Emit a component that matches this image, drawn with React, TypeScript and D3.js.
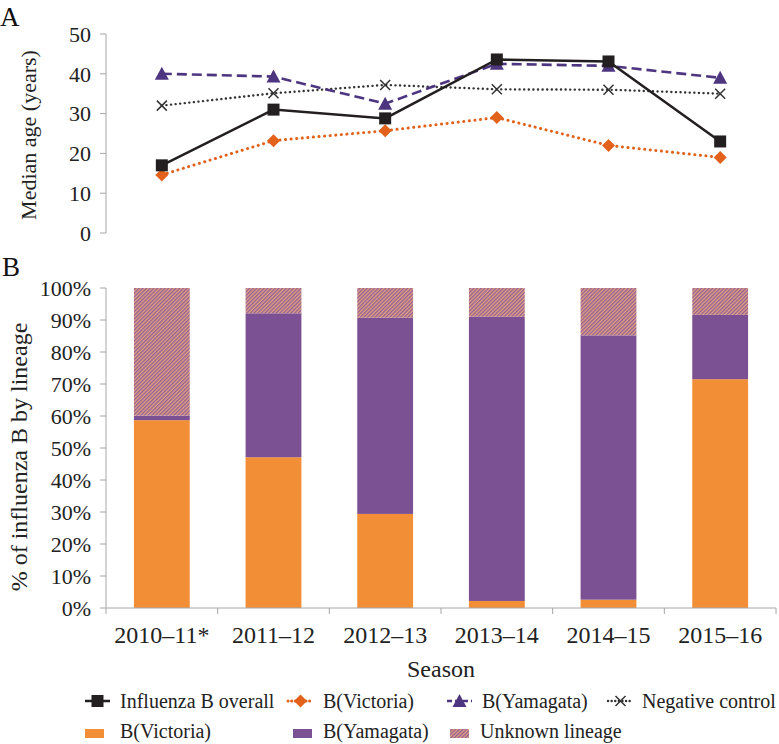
import React from "react";
import * as d3 from "d3";

const seasons = ["2010–11*", "2011–12", "2012–13", "2013–14", "2014–15", "2015–16"];
const overallAge = [17, 31, 28.8, 43.6, 43.1, 23];
const victoriaAge = [14.6, 23.2, 25.7, 29, 22, 19];
const yamagataAge = [40, 39.3, 32.5, 42.5, 42, 39];
const negativeAge = [32, 35.1, 37.2, 36.1, 36, 35];
const victoriaPct = [58.7, 47.1, 29.4, 2.2, 2.6, 71.5];
const yamagataPct = [1.4, 45, 61.3, 88.8, 82.6, 20.1];
const unknownPct = [39.9, 7.9, 9.3, 9.0, 14.8, 8.4];
const ageTicks = [0, 10, 20, 30, 40, 50];
const pctTicks = [0, 10, 20, 30, 40, 50, 60, 70, 80, 90, 100];

const FONT = "Liberation Serif, DejaVu Serif, Times New Roman, serif";
const AXIS = "#a6a6a6";
const ORANGE_BAR = "#F28E36";
const PURPLE_BAR = "#7C5193";
const ORANGE_LINE = "#E2621B";
const PURPLE_LINE = "#4E3580";
const BLACK = "#231F20";
const GREY = "#333333";

const x = d3.scaleBand<string>().domain(seasons).range([106, 776]).paddingInner(0.5).paddingOuter(0.25);
const yAge = d3.scaleLinear().domain([0, 50]).range([233, 34]);
const yPct = d3.scaleLinear().domain([0, 100]).range([608, 288]);
const cx = (s: string) => (x(s) as number) + x.bandwidth() / 2;

function Marker({ kind, px, py }: { kind: string; px: number; py: number }) {
  if (kind === "square") return <rect x={px - 6} y={py - 6} width={12} height={12} fill={BLACK} />;
  if (kind === "diamond") {
    return <path d={`M${px},${py - 6.5}L${px + 6.5},${py}L${px},${py + 6.5}L${px - 6.5},${py}Z`} fill={ORANGE_LINE} />;
  }
  if (kind === "triangle") {
    return <path d={`M${px},${py - 7}L${px + 7},${py + 6}L${px - 7},${py + 6}Z`} fill={PURPLE_LINE} />;
  }
  return (
    <path d={`M${px - 5},${py - 5}L${px + 5},${py + 5}M${px + 5},${py - 5}L${px - 5},${py + 5}`} stroke={GREY} strokeWidth={1.5} fill="none" />
  );
}

const lineSeries = [
  { name: "Influenza B overall", values: overallAge, color: BLACK, dash: "none", width: 2.5, marker: "square", cap: "butt" },
  { name: "B(Victoria)", values: victoriaAge, color: ORANGE_LINE, dash: "0.1,5.5", width: 3, marker: "diamond", cap: "round" },
  { name: "B(Yamagata)", values: yamagataAge, color: PURPLE_LINE, dash: "10,5", width: 2.6, marker: "triangle", cap: "butt" },
  { name: "Negative control", values: negativeAge, color: GREY, dash: "0.1,4.5", width: 2.4, marker: "x", cap: "round" },
];

export default function App() {
  const line = d3.line<number>().x((_, i) => cx(seasons[i])).y((d) => yAge(d));
  const stacks = seasons.map((s, i) => {
    const v = victoriaPct[i], y = yamagataPct[i], u = unknownPct[i];
    return [
      { y0: 0, y1: v, fill: ORANGE_BAR },
      { y0: v, y1: v + y, fill: PURPLE_BAR },
      { y0: v + y, y1: v + y + u, fill: "url(#hatch)" },
    ];
  });
  const legendRow1 = [
    { s: lineSeries[0], x0: 85, tx: 120 },
    { s: lineSeries[1], x0: 288, tx: 323 },
    { s: lineSeries[2], x0: 447, tx: 482 },
    { s: lineSeries[3], x0: 608, tx: 642 },
  ];
  const legendRow2 = [
    { name: "B(Victoria)", fill: ORANGE_BAR, x0: 85, tx: 120 },
    { name: "B(Yamagata)", fill: PURPLE_BAR, x0: 293, tx: 323 },
    { name: "Unknown lineage", fill: "url(#hatch)", x0: 450, tx: 480 },
  ];
  const txt = { fontFamily: FONT } as React.CSSProperties;
  return (
    <svg width={779} height={744} style={{ position: "fixed", left: 0, top: 0, background: "#fff", fontFamily: FONT }}>
      <defs>
        <pattern id="hatch" width={2.6} height={2.6} patternUnits="userSpaceOnUse" patternTransform="rotate(45)">
          <rect width={2.6} height={2.6} fill="#E7A07E" />
          <rect x={0} y={0} width={1.3} height={2.6} fill="#8E6198" />
        </pattern>
      </defs>
      <rect width={779} height={744} fill="#fff" />
      {/* Panel A */}
      <text x={0} y={26} fontSize={27} fill="#111" style={txt}>A</text>
      <line x1={106} x2={106} y1={yAge(50)} y2={yAge(0)} stroke={AXIS} strokeWidth={1} />
      {ageTicks.map((t) => (
        <g key={t}>
          <line x1={100} x2={106} y1={yAge(t)} y2={yAge(t)} stroke={AXIS} />
          <text x={91} y={yAge(t)} dy="0.35em" textAnchor="end" fontSize={22} fill="#222" style={txt}>{t}</text>
        </g>
      ))}
      <text transform={`translate(36,135) rotate(-90)`} textAnchor="middle" fontSize={22} fill="#222" style={txt}>Median age (years)</text>
      {[lineSeries[3], lineSeries[1], lineSeries[2], lineSeries[0]].map((s) => (
        <g key={s.name}>
          <path d={line(s.values) as string} fill="none" stroke={s.color} strokeWidth={s.width} strokeDasharray={s.dash} strokeLinecap={s.cap as any} />
          {s.values.map((v, i) => (
            <Marker key={i} kind={s.marker} px={cx(seasons[i])} py={yAge(v)} />
          ))}
        </g>
      ))}
      {/* Panel B */}
      <text x={2} y={276} fontSize={27} fill="#111" style={txt}>B</text>
      {stacks.map((st, i) => (
        <g key={i}>
          {st.map((seg, j) => (
            <rect key={j} x={x(seasons[i])} width={x.bandwidth()} y={yPct(seg.y1)} height={yPct(seg.y0) - yPct(seg.y1)} fill={seg.fill} />
          ))}
        </g>
      ))}
      <line x1={106} x2={106} y1={yPct(100)} y2={yPct(0)} stroke={AXIS} />
      <line x1={106} x2={776} y1={yPct(0)} y2={yPct(0)} stroke={AXIS} />
      {pctTicks.map((t) => (
        <g key={t}>
          <line x1={100} x2={106} y1={yPct(t)} y2={yPct(t)} stroke={AXIS} />
          <text x={91} y={yPct(t)} dy="0.35em" textAnchor="end" fontSize={22} fill="#222" style={txt}>{t}%</text>
        </g>
      ))}
      {seasons.map((s, i) => (
        <line key={"b" + i} x1={(x(s) as number) - x.step() * 0.25} x2={(x(s) as number) - x.step() * 0.25} y1={608} y2={614} stroke={AXIS} />
      ))}
      <line x1={776} x2={776} y1={608} y2={614} stroke={AXIS} />
      {seasons.map((s) => (
        <text key={s} x={cx(s)} y={643} textAnchor="middle" fontSize={24} fill="#222" style={txt}>{s}</text>
      ))}
      <text x={441} y={677} textAnchor="middle" fontSize={24} fill="#222" style={txt}>Season</text>
      <text transform={`translate(27,457) rotate(-90)`} textAnchor="middle" fontSize={24} fill="#222" style={txt}>% of influenza B by lineage</text>
      {/* Legend */}
      {legendRow1.map(({ s, x0, tx }) => (
        <g key={s.name}>
          <line x1={x0} x2={x0 + 25} y1={701} y2={701} stroke={s.color} strokeWidth={s.width} strokeDasharray={s.dash === "none" ? "none" : s.dash === "10,5" ? "5,3" : "0.1,3.5"} strokeLinecap={s.cap as any} />
          <Marker kind={s.marker} px={x0 + 12.5} py={701} />
          <text x={tx} y={708} fontSize={20} fill="#222" style={txt}>{s.name}</text>
        </g>
      ))}
      {legendRow2.map((d) => (
        <g key={d.name}>
          <rect x={d.x0} y={729} width={19} height={9} fill={d.fill} />
          <text x={d.tx} y={738} fontSize={20} fill="#222" style={txt}>{d.name}</text>
        </g>
      ))}
    </svg>
  );
}
